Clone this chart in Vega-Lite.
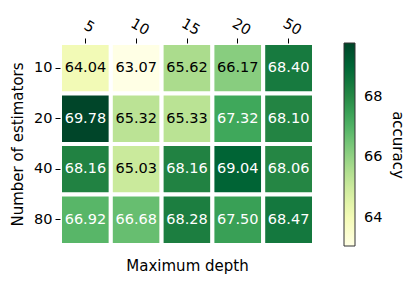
{
  "$schema": "https://vega.github.io/schema/vega-lite/v6.json",
  "width": 254,
  "height": 202,
  "autosize": "none",
  "padding": {"left": 60, "top": 43, "right": 101, "bottom": 40},
  "config": {
    "font": "DejaVu Sans",
    "view": {"stroke": null},
    "axis": {"labelFont": "DejaVu Sans", "titleFont": "DejaVu Sans", "labelFontSize": 14.5, "titleFontSize": 15, "titleFontWeight": "normal", "labelColor": "black", "titleColor": "black", "tickColor": "black", "domain": false, "grid": false},
    "legend": {"labelFont": "DejaVu Sans", "titleFont": "DejaVu Sans", "labelFontSize": 14.5, "titleFontSize": 15, "titleFontWeight": "normal", "labelColor": "black", "titleColor": "black"}
  },
  "data": {"values": [
    {"est": "10", "depth": "5", "accuracy": 64.04},
    {"est": "10", "depth": "10", "accuracy": 63.07},
    {"est": "10", "depth": "15", "accuracy": 65.62},
    {"est": "10", "depth": "20", "accuracy": 66.17},
    {"est": "10", "depth": "50", "accuracy": 68.40},
    {"est": "20", "depth": "5", "accuracy": 69.78},
    {"est": "20", "depth": "10", "accuracy": 65.32},
    {"est": "20", "depth": "15", "accuracy": 65.33},
    {"est": "20", "depth": "20", "accuracy": 67.32},
    {"est": "20", "depth": "50", "accuracy": 68.10},
    {"est": "40", "depth": "5", "accuracy": 68.16},
    {"est": "40", "depth": "10", "accuracy": 65.03},
    {"est": "40", "depth": "15", "accuracy": 68.16},
    {"est": "40", "depth": "20", "accuracy": 69.04},
    {"est": "40", "depth": "50", "accuracy": 68.06},
    {"est": "80", "depth": "5", "accuracy": 66.92},
    {"est": "80", "depth": "10", "accuracy": 66.68},
    {"est": "80", "depth": "15", "accuracy": 68.28},
    {"est": "80", "depth": "20", "accuracy": 67.50},
    {"est": "80", "depth": "50", "accuracy": 68.47}
  ]},
  "layer": [
    {
      "mark": {"type": "rect", "stroke": "white", "strokeWidth": 4},
      "encoding": {
        "x": {"field": "depth", "type": "ordinal", "sort": ["5", "10", "15", "20", "50"], "scale": {"paddingInner": 0, "paddingOuter": 0},
              "axis": {"orient": "top", "title": null, "labelAngle": 30, "labelAlign": "center", "labelBaseline": "bottom", "labelPadding": 5, "tickSize": 5}},
        "y": {"field": "est", "type": "ordinal", "sort": ["10", "20", "40", "80"], "scale": {"paddingInner": 0, "paddingOuter": 0},
              "axis": {"title": "Number of estimators", "labelAngle": 0, "tickSize": 5, "labelPadding": 3, "titlePadding": 8}},
        "color": {"field": "accuracy", "type": "quantitative",
                  "scale": {"range": ["#ffffe5", "#f7fcb9", "#d9f0a3", "#addd8e", "#78c679", "#41ab5d", "#238443", "#006837", "#004529"], "interpolate": "rgb", "zero": false, "nice": false},
                  "legend": {"orient": "none", "legendX": 284, "legendY": 0, "direction": "vertical", "gradientLength": 203, "gradientThickness": 11, "gradientStrokeColor": "#333333", "gradientStrokeWidth": 1, "values": [64, 66, 68], "labelOffset": 9, "title": "accuracy", "titleOrient": "right", "titleAngle": 90, "titleAnchor": "middle", "titlePadding": 16, "titleBaseline": "middle"}}
      }
    },
    {
      "mark": {"type": "text", "fontSize": 14.5, "font": "DejaVu Sans"},
      "encoding": {
        "x": {"field": "depth", "type": "ordinal", "sort": ["5", "10", "15", "20", "50"],
              "axis": {"orient": "bottom", "title": "Maximum depth", "labels": false, "ticks": false, "titlePadding": 13}},
        "y": {"field": "est", "type": "ordinal", "sort": ["10", "20", "40", "80"]},
        "text": {"field": "accuracy", "type": "quantitative", "format": ".2f"},
        "color": {"condition": {"test": "datum.accuracy > 66.4", "value": "white"}, "value": "black"}
      }
    }
  ],
  "resolve": {"axis": {"x": "independent"}}
}
